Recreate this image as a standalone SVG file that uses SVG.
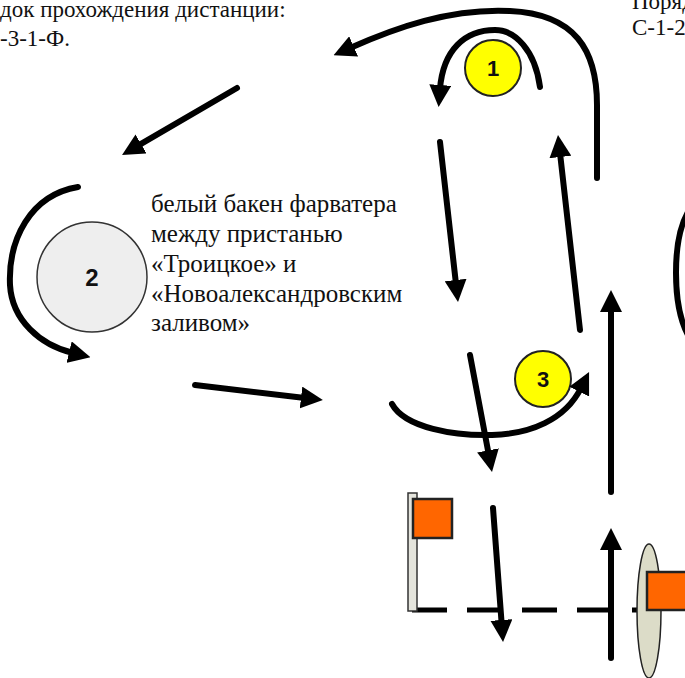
<svg xmlns="http://www.w3.org/2000/svg" width="685" height="678" viewBox="0 0 685 678">
  <style>
    .txt { font-family: "Liberation Serif", "DejaVu Serif", serif; font-size: 25px; fill: #111; }
    .top { font-size: 23px; }
    .num { font-family: "Liberation Sans", Arial, sans-serif; font-weight: bold; fill: #111; text-anchor: middle; dominant-baseline: central; }
    .arr { fill: none; stroke: #000; stroke-width: 6; stroke-linecap: round; marker-end: url(#head); }
    .arc { fill: none; stroke: #000; stroke-width: 6; stroke-linecap: round; }
    .ball { fill: #ffff00; stroke: #222; stroke-width: 2; }
    .flag { fill: #ff6600; stroke: #222; stroke-width: 2.5; }
  </style>
  <defs>
    <marker id="head" markerUnits="userSpaceOnUse" viewBox="0 0 22 22" markerWidth="22" markerHeight="22" refX="4" refY="11" orient="auto">
      <path d="M0,0 L22,11 L0,22 z" fill="#000"/>
    </marker>
  </defs>
  <rect width="685" height="678" fill="#fff"/>

  <g id="title-left">
    <text class="txt top" x="0" y="17">док прохождения дистанции:</text>
    <text class="txt top" x="0" y="46">-3-1-Ф.</text>
  </g>
  <g id="title-right">
    <text class="txt top" x="632" y="9">Поряд</text>
    <text class="txt top" x="632" y="35">С-1-2</text>
  </g>

  <g id="ball2">
    <circle cx="92" cy="277" r="55" fill="#eeeeee" stroke="#333" stroke-width="1.5"/>
    <text class="num" x="92" y="277" font-size="24">2</text>
  </g>
  <g id="ball2-label">
    <text class="txt" x="151" y="212">белый бакен фарватера</text>
    <text class="txt" x="151" y="242">между пристанью</text>
    <text class="txt" x="151" y="272">«Троицкое» и</text>
    <text class="txt" x="151" y="302">«Новоалександровским</text>
    <text class="txt" x="151" y="331">заливом»</text>
  </g>

  <g id="ball1">
    <circle class="ball" cx="493" cy="68" r="28"/>
    <text class="num" x="493" y="68" font-size="22">1</text>
  </g>
  <g id="ball3">
    <circle class="ball" cx="543" cy="379" r="28"/>
    <text class="num" x="543" y="379" font-size="22">3</text>
  </g>

  <g id="gate-left">
    <path d="M412,610 L640,610" fill="none" stroke="#000" stroke-width="5" stroke-dasharray="35 20"/>
    <rect x="408" y="493" width="9" height="118" fill="#e4e4dc" stroke="#333" stroke-width="1.5"/>
    <rect class="flag" x="413" y="499" width="39" height="39"/>
  </g>
  <g id="gate-right">
    <ellipse cx="649" cy="611" rx="12" ry="67" fill="#dcdcc8" stroke="#222" stroke-width="1.5"/>
    <rect class="flag" x="647" y="572" width="42" height="38"/>
  </g>

  <g id="connectors">
    <path class="arr" d="M597,178 L597,105 C597,50 575,14 510,11 C450,8 395,28 350,48"/>
    <path class="arr" d="M540,87 C535,50 515,30 495,30 C465,30 443,50 440,89"/>
    <path class="arr" d="M440,142 L456,284"/>
    <path class="arr" d="M580,330 L560,153"/>
    <path class="arr" d="M611,492 L611,308"/>
    <path class="arr" d="M611,658 L611,546"/>
    <path class="arr" d="M392,404 C405,428 455,436 492,435 C530,434 565,420 581,388"/>
    <path class="arr" d="M470,355 L488.7,454.3"/>
    <path class="arr" d="M493,508 L501.7,624"/>
    <path class="arr" d="M237,88 L137.6,145.9"/>
    <path class="arr" d="M195,385 L305,398"/>
    <path class="arr" d="M78,187 C30,195 8,240 10,285 C12,320 40,345 73,353"/>
    <path class="arc" d="M688,212 C672,240 672,305 688,335"/>
  </g>
</svg>
